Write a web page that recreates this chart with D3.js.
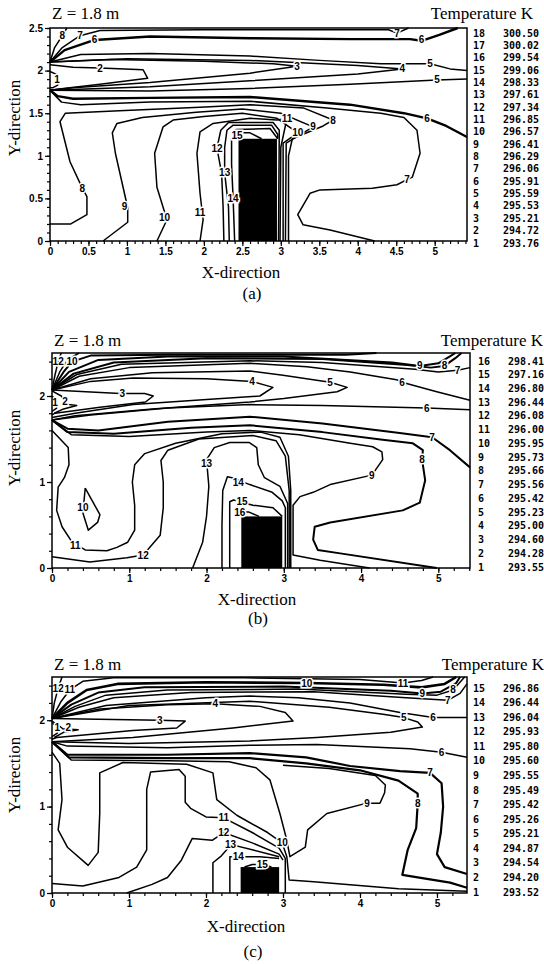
<!DOCTYPE html>
<html>
<head>
<meta charset="utf-8">
<script src="https://cdn.jsdelivr.net/npm/d3@7"></script>
<style>
body { margin: 0; background: #fff; }
svg { display: block; }
</style>
</head>
<body>
<svg width="544" height="964"></svg>
<script>
// ---- legend values (temperature K, level 1 first) ----
const tempsA = [293.76, 294.72, 295.21, 295.53, 295.59, 295.91, 296.06, 296.29, 296.41,
  296.57, 296.85, 297.34, 297.61, 298.33, 299.06, 299.54, 300.02, 300.50];
const tempsB = [293.55, 294.28, 294.60, 295.00, 295.23, 295.42, 295.56, 295.66,
  295.73, 295.95, 296.00, 296.08, 296.44, 296.80, 297.16, 298.41];
const tempsC = [293.52, 294.20, 294.54, 294.87, 295.21, 295.26, 295.42, 295.49,
  295.55, 295.60, 295.80, 295.93, 296.04, 296.44, 296.86];

// heat source block [x0, x1, height] in metres
const blockA = [2.45, 2.95, 1.2];
const blockB = [2.45, 2.98, 0.6];
const blockC = [2.45, 2.95, 0.3];

// ---- contour lines (x, y in metres) ----
// lv = level number, lab = where the level number is printed, w = heavier stroke
const linesA = [
  {lv: 8, pts: [[0,2.1],[0.06,2.27],[0.16,2.41],[0.22,2.5]], lab: [[0.16,2.41]]},
  {lv: 7, pts: [[0,2.1],[0.16,2.27],[0.39,2.41],[0.65,2.47],[1.95,2.48],[4.4,2.48],[4.51,2.44],[4.66,2.5]], lab: [[0.39,2.41],[4.51,2.44]]},
  {lv: 6, w: 2.4, pts: [[0,2.1],[0.19,2.24],[0.58,2.36],[1.3,2.4],[2.6,2.38],[3.9,2.37],[4.68,2.37],[4.83,2.35],[5.06,2.42],[5.3,2.5]], lab: [[0.58,2.37],[4.83,2.36]]},
  {lv: 5, pts: [[0,2.1],[0.4,2.19],[1.3,2.2],[2.6,2.17],[3.5,2.12],[4.3,2.08],[4.94,2.08],[5.2,2.02],[5.42,2.0]], lab: [[4.94,2.08]]},
  {lv: 4, pts: [[0,2.1],[1.0,2.14],[2.6,2.12],[4.0,2.06],[4.58,2.02],[4.0,1.96],[2.6,1.88],[1.3,1.81],[0,1.77]], lab: [[4.58,2.02]]},
  {lv: 3, pts: [[0,2.1],[0.8,2.13],[2.0,2.11],[2.9,2.08],[3.21,2.05],[2.6,1.97],[1.3,1.86],[0.3,1.8],[0,1.77]], lab: [[3.21,2.05]]},
  {lv: 2, pts: [[0,2.07],[0.3,2.04],[0.65,2.03],[1.21,2.01],[1.27,1.91],[0.65,1.84],[0.09,1.78],[0,1.77]], lab: [[0.65,2.03]]},
  {lv: 1, pts: [[0,1.99],[0.1,1.95],[0.1,1.83],[0.04,1.8],[0,1.8]], lab: [[0.09,1.89]]},
  {lv: 5, pts: [[0,1.77],[1.3,1.76],[2.6,1.79],[3.9,1.84],[5.03,1.89],[5.42,1.9]], lab: [[5.03,1.89]]},
  {lv: 6, w: 2.4, pts: [[0,1.77],[0.1,1.7],[0.3,1.67],[1.3,1.68],[2.6,1.69],[3.9,1.6],[4.6,1.5],[4.9,1.44],[5.15,1.35],[5.42,1.22]], lab: [[4.9,1.44]]},
  {lv: 7, pts: [[0,1.77],[0.15,1.63],[0.4,1.6],[1.3,1.63],[2.6,1.64],[3.6,1.56],[4.3,1.5],[4.6,1.45],[4.77,1.3],[4.81,1.03],[4.71,0.75],[4.64,0.72],[4.51,0.66],[4.19,0.62],[3.51,0.6],[3.38,0.56],[3.22,0.31],[3.29,0.19],[3.64,0.13],[4.22,0]], lab: [[4.64,0.72]]},
  {lv: 8, pts: [[0,0.2],[0.27,0.2],[0.48,0.31],[0.48,0.52],[0.42,0.62],[0.26,0.93],[0.13,1.4],[0.2,1.5],[0.9,1.53],[1.95,1.57],[2.6,1.6],[3.3,1.56],[3.68,1.42],[3.55,1.35],[3.15,1.2],[3.1,1.0],[3.1,0]], lab: [[0.42,0.62],[3.68,1.42]]},
  {lv: 9, pts: [[0.69,0],[1.01,0.22],[1.01,0.39],[0.85,1.03],[0.81,1.27],[0.87,1.38],[1.2,1.45],[1.9,1.51],[2.5,1.55],[3.0,1.5],[3.42,1.34],[3.07,1.15],[3.06,0]], lab: [[0.97,0.4],[3.42,1.34]]},
  {lv: 10, pts: [[1.39,0],[1.52,0.25],[1.39,0.63],[1.36,1.03],[1.47,1.34],[1.6,1.42],[2.0,1.46],[2.5,1.5],[2.95,1.44],[3.22,1.27],[3.03,1.15],[3.03,0]], lab: [[1.49,0.28],[3.22,1.27]]},
  {lv: 11, pts: [[1.95,0],[1.99,0.25],[1.95,0.56],[1.91,1.03],[1.95,1.28],[2.12,1.38],[2.6,1.44],[2.95,1.42],[3.08,1.44],[3.0,1.1],[2.99,0]], lab: [[1.95,0.33],[3.08,1.44]]},
  {lv: 12, pts: [[2.26,0],[2.25,0.4],[2.23,0.8],[2.17,1.09],[2.22,1.3],[2.32,1.39],[2.9,1.39],[2.98,1.3],[2.97,0]], lab: [[2.17,1.09]]},
  {lv: 13, pts: [[2.33,0],[2.32,0.4],[2.27,0.8],[2.27,1.1],[2.3,1.3],[2.38,1.36],[2.88,1.36],[2.96,1.25],[2.96,1.2]], lab: [[2.27,0.8]]},
  {lv: 14, pts: [[2.4,0],[2.38,0.5],[2.36,0.9],[2.36,1.2],[2.42,1.31],[2.86,1.32],[2.96,1.2]], lab: [[2.38,0.5]]},
  {lv: 15, pts: [[2.45,1.2],[2.43,1.27],[2.6,1.27],[2.75,1.2]], lab: [[2.43,1.24]]}
];

const linesB = [
  {lv: 12, pts: [[0,2.07],[0.04,2.25],[0.08,2.4],[0.12,2.5]], lab: [[0.08,2.4]]},
  {lv: 11, pts: [[0,2.07],[0.1,2.28],[0.2,2.42],[0.35,2.5]]},
  {lv: 10, w: 2, pts: [[0,2.07],[0.15,2.28],[0.26,2.4],[0.5,2.47],[1.5,2.48],[3.0,2.48],[3.8,2.48],[4.2,2.5]], lab: [[0.26,2.4]]},
  {lv: 9, w: 2, pts: [[0,2.07],[0.22,2.28],[0.6,2.42],[1.5,2.46],[3,2.46],[4.4,2.39],[4.76,2.35],[5.0,2.38],[5.15,2.46],[5.22,2.5]], lab: [[4.76,2.35]]},
  {lv: 8, w: 2, pts: [[0,2.07],[0.28,2.26],[0.8,2.39],[2,2.44],[3.5,2.43],[4.6,2.36],[4.9,2.33],[5.08,2.35],[5.22,2.44],[5.3,2.5]], lab: [[5.08,2.35]]},
  {lv: 7, pts: [[0,2.07],[0.32,2.25],[0.9,2.37],[2.56,2.41],[3.5,2.39],[4.7,2.31],[5.0,2.28],[5.25,2.3],[5.41,2.33]], lab: [[5.25,2.3]]},
  {lv: 6, pts: [[0,2.07],[0.35,2.23],[1.0,2.33],[2.56,2.38],[3.3,2.34],[3.86,2.28],[4.46,2.19],[4.53,2.16],[4.98,2.05],[5.41,1.95]], lab: [[4.53,2.16]]},
  {lv: 5, pts: [[0,2.07],[0.5,2.2],[1.3,2.27],[2.56,2.29],[2.99,2.24],[3.6,2.16],[3.82,2.1],[3.69,2.05],[3.0,1.97],[2.56,1.93],[1.3,1.85],[0.3,1.77],[0,1.72]], lab: [[3.6,2.16]]},
  {lv: 4, pts: [[0,2.07],[0.5,2.17],[1.05,2.21],[2.0,2.2],[2.59,2.17],[2.86,2.1],[2.69,2.0],[2.0,1.96],[1.05,1.9],[0.3,1.8],[0,1.75]], lab: [[2.59,2.17]]},
  {lv: 3, pts: [[0,2.07],[0.88,2.03],[1.2,2.03],[1.31,2.0],[1.21,1.93],[0.62,1.87],[0.04,1.8],[0,1.78]], lab: [[0.91,2.03]]},
  {lv: 2, pts: [[0,2.06],[0.12,2.0],[0.17,1.94],[0.22,1.9],[0.32,1.89],[0.15,1.85],[0.03,1.8]], lab: [[0.17,1.94]]},
  {lv: 1, pts: [[0,2.0],[0.05,1.96],[0.06,1.86],[0,1.82]], lab: [[0.04,1.93]]},
  {lv: 6, pts: [[0,1.72],[0.5,1.78],[1.5,1.86],[2.56,1.9],[3.5,1.89],[4.85,1.86],[5.41,1.84]], lab: [[4.85,1.86]]},
  {lv: 7, w: 2, pts: [[0,1.72],[0.2,1.62],[0.6,1.6],[1.5,1.7],[2.56,1.76],[3.5,1.68],[4.5,1.57],[4.92,1.52],[5.15,1.37],[5.41,1.17]], lab: [[4.92,1.52]]},
  {lv: 8, w: 2, pts: [[0,1.72],[0.2,1.58],[0.8,1.56],[1.8,1.63],[2.56,1.66],[3.5,1.58],[4.28,1.49],[4.67,1.45],[4.8,1.37],[4.79,1.26],[4.83,1.02],[4.76,0.76],[4.54,0.67],[3.6,0.53],[3.4,0.48],[3.38,0.33],[3.44,0.21],[3.73,0.17],[4.98,0]], lab: [[4.79,1.26]]},
  {lv: 9, pts: [[0,1.72],[0.25,1.55],[1.0,1.53],[2.0,1.58],[2.56,1.6],[3.2,1.55],[3.86,1.45],[4.15,1.41],[4.27,1.35],[4.28,1.26],[4.14,1.08],[3.6,0.97],[3.38,0.88],[3.21,0.83],[3.12,0.73],[3.12,0.15],[3.47,0.09],[4.11,0]], lab: [[4.14,1.08]]},
  {lv: 10, pts: [[0.43,0.93],[0.62,0.62],[0.59,0.53],[0.47,0.44],[0.4,0.64],[0.43,0.93]], lab: [[0.4,0.7]]},
  {lv: 11, pts: [[0,1.6],[0.21,1.4],[0.22,1.2],[0.16,1.05],[0.08,0.94],[0.06,0.67],[0.13,0.48],[0.26,0.3],[0.43,0.21],[0.71,0.2],[0.84,0.24],[0.98,0.3],[1.07,0.44],[1.07,0.73],[1.04,1.0],[1.07,1.2],[1.2,1.33],[1.6,1.45],[2.2,1.56],[2.7,1.58],[2.95,1.52],[3.06,1.3],[3.09,0.9],[3.09,0]], lab: [[0.3,0.26]]},
  {lv: 12, pts: [[0,0.13],[0.49,0.07],[0.97,0.12],[1.18,0.15],[1.4,0.38],[1.44,0.7],[1.44,1.0],[1.41,1.25],[1.5,1.37],[1.9,1.5],[2.6,1.54],[2.9,1.48],[3.02,1.3],[3.07,0.9],[3.07,0]], lab: [[1.18,0.15]]},
  {lv: 13, pts: [[1.82,0],[1.95,0.3],[2.0,0.6],[2.03,0.95],[2.0,1.26],[2.1,1.4],[2.3,1.46],[2.55,1.46],[2.65,1.4],[2.67,1.2],[2.75,1.05],[2.95,0.95],[3.05,0.75],[3.05,0]], lab: [[2.0,1.22]]},
  {lv: 14, pts: [[2.2,0],[2.2,0.5],[2.21,0.9],[2.27,1.06],[2.33,1.05],[2.56,0.97],[2.85,0.88],[2.98,0.78],[3.02,0.7],[3.02,0]], lab: [[2.41,0.99]]},
  {lv: 15, pts: [[2.3,0],[2.3,0.77],[2.35,0.79],[2.6,0.73],[2.86,0.7],[2.98,0.6]], lab: [[2.46,0.77]]},
  {lv: 16, pts: [[2.38,0.6],[2.4,0.65],[2.55,0.65],[2.68,0.6]], lab: [[2.43,0.65]]}
];

const linesC = [
  {lv: 12, pts: [[0,2.02],[0.03,2.2],[0.08,2.37],[0.13,2.5]], lab: [[0.08,2.37]]},
  {lv: 11, pts: [[0,2.02],[0.12,2.22],[0.23,2.35],[0.4,2.45],[0.8,2.49],[2.5,2.49],[4.0,2.47],[4.56,2.43],[4.8,2.46],[4.95,2.5]], lab: [[0.23,2.35],[4.56,2.43]]},
  {lv: 10, w: 2.6, pts: [[0,2.02],[0.2,2.2],[0.45,2.35],[0.85,2.42],[2,2.44],[3.31,2.43],[4.3,2.41],[4.8,2.38],[5.1,2.42],[5.25,2.5]], lab: [[3.31,2.43]]},
  {lv: 9, w: 2, pts: [[0,2.02],[0.25,2.18],[0.6,2.32],[1.2,2.38],[3,2.39],[4.4,2.34],[4.81,2.31],[5.05,2.33],[5.25,2.43],[5.3,2.5]], lab: [[4.81,2.31]]},
  {lv: 8, pts: [[0,2.02],[0.3,2.16],[0.7,2.29],[1.5,2.35],[3.2,2.36],[4.6,2.3],[5.0,2.29],[5.21,2.35],[5.33,2.47],[5.36,2.5]], lab: [[5.21,2.35]]},
  {lv: 7, pts: [[0,2.02],[0.35,2.15],[0.8,2.26],[1.8,2.32],[3.4,2.33],[4.6,2.26],[5.14,2.23],[5.3,2.31],[5.39,2.42]], lab: [[5.14,2.23]]},
  {lv: 6, pts: [[0,2.02],[0.7,2.17],[2.0,2.26],[2.57,2.28],[3.2,2.26],[3.87,2.2],[4.52,2.09],[4.95,2.03],[5.39,2.03]], lab: [[4.95,2.03]]},
  {lv: 5, pts: [[0,2.02],[1.0,2.17],[2.57,2.22],[3.6,2.15],[4.3,2.07],[4.57,2.03],[4.75,1.98],[4.81,1.92],[4.4,1.86],[3.44,1.8],[2.57,1.76],[1.0,1.73],[0,1.75]], lab: [[4.57,2.03]]},
  {lv: 4, pts: [[0,2.02],[0.62,2.13],[1.5,2.18],[2.12,2.19],[2.7,2.16],[3.03,2.09],[3.13,1.99],[2.35,1.91],[1.05,1.8],[0,1.75]], lab: [[2.12,2.19]]},
  {lv: 3, pts: [[0,2.02],[1.4,2.0],[1.73,1.99],[1.62,1.91],[1.05,1.88],[0.06,1.8],[0,1.78]], lab: [[1.4,2.0]]},
  {lv: 2, pts: [[0,1.99],[0.1,1.93],[0.14,1.9],[0.34,1.89],[0.15,1.86],[0.03,1.8]], lab: [[0.21,1.92]]},
  {lv: 1, pts: [[0,1.97],[0.06,1.93],[0.07,1.85],[0,1.81]], lab: [[0.07,1.92]]},
  {lv: 6, pts: [[0,1.75],[0.2,1.7],[1.5,1.68],[2.57,1.71],[3.44,1.72],[4.65,1.67],[5.06,1.63],[5.39,1.57]], lab: [[5.06,1.63]]},
  {lv: 7, w: 2.2, pts: [[0,1.75],[0.2,1.6],[1.5,1.6],[2.57,1.62],[3.3,1.57],[3.87,1.47],[4.52,1.41],[4.91,1.39],[5.06,1.27],[5.08,1.0],[5.05,0.7],[5.0,0.45],[5.1,0.3],[5.39,0.22]], lab: [[4.91,1.39]]},
  {lv: 8, w: 2.2, pts: [[0,1.75],[0.22,1.57],[1.5,1.56],[2.57,1.56],[3.3,1.5],[4.0,1.42],[4.5,1.3],[4.75,1.15],[4.75,1.04],[4.73,0.75],[4.62,0.5],[4.55,0.21],[5.17,0.12],[5.39,0.06]], lab: [[4.75,1.04]]},
  {lv: 9, pts: [[0,1.75],[0.25,1.54],[1.5,1.53],[2.3,1.52],[2.65,1.45],[2.83,1.31],[2.96,0.92],[3.05,0.61],[3.09,0.42],[3.29,0.53],[3.32,0.73],[3.57,0.92],[4.09,1.04],[4.26,1.04],[4.32,1.16],[4.33,1.25],[4.2,1.36],[3.6,1.44],[3.0,1.48]], lab: [[4.09,1.04]]},
  {lv: 10, pts: [[0,1.63],[0.1,1.5],[0.13,1.08],[0.08,0.73],[0.2,0.53],[0.47,0.32],[0.6,0.47],[0.62,0.92],[0.62,1.39],[0.92,1.51],[1.75,1.49],[2.09,1.39],[2.14,1.08],[2.4,0.9],[2.8,0.7],[2.99,0.58],[3.05,0.42],[3.08,0.15],[3.4,0.13],[4.5,0.05],[5.39,0.02]], lab: [[2.99,0.58]]},
  {lv: 11, pts: [[0,0.11],[0.4,0.08],[0.87,0.18],[1.1,0.3],[1.23,0.5],[1.23,1.2],[1.28,1.4],[1.65,1.43],[1.73,1.35],[1.73,1.05],[1.8,0.98],[2.0,0.88],[2.23,0.87],[2.6,0.7],[2.95,0.52],[3.03,0.4],[3.03,0]], lab: [[2.23,0.87]]},
  {lv: 12, pts: [[0.97,0],[1.3,0.1],[1.5,0.18],[1.68,0.38],[1.82,0.63],[2.08,0.61],[2.23,0.7],[2.6,0.58],[2.95,0.45],[3.0,0.38]], lab: [[2.23,0.7]]},
  {lv: 13, pts: [[2.09,0],[2.09,0.35],[2.2,0.43],[2.33,0.56],[2.6,0.5],[2.95,0.42]], lab: [[2.32,0.56]]},
  {lv: 14, pts: [[2.31,0],[2.31,0.42],[2.42,0.42],[2.7,0.42],[2.95,0.4]], lab: [[2.42,0.42]]},
  {lv: 15, pts: [[2.5,0.3],[2.6,0.33],[2.75,0.33],[2.85,0.3]], lab: [[2.73,0.33]]}
];

// ---- layout of the three panels (pixels) ----
const panels = [
  {lines: linesA, temps: tempsA, block: blockA, tag: '(a)',
    left: 50, right: 467, top: 28, bottom: 241, xMax: 5.42,
    xMajor: d3.range(0, 5.01, 0.5), xMinor: d3.range(0, 5.42, 0.1),
    yMajor: d3.range(0, 2.51, 0.5), yMinor: d3.range(0, 2.51, 0.1),
    titleY: 19, tempEnd: 533, legTop: 33, legBottom: 243, legX: 473,
    xTitleX: 241, xTitleY: 278, tagX: 252, tagY: 299, yTitleMid: 118},
  {lines: linesB, temps: tempsB, block: blockB, tag: '(b)',
    left: 52, right: 470, top: 353, bottom: 568, xMax: 5.41,
    xMajor: d3.range(0, 5.01, 1), xMinor: d3.range(0, 5.41, 0.2),
    yMajor: [0, 1, 2], yMinor: d3.range(0, 2.51, 0.2),
    titleY: 346, tempEnd: 543, legTop: 361, legBottom: 567, legX: 478,
    xTitleX: 257, xTitleY: 605, tagX: 258, tagY: 624, yTitleMid: 448},
  {lines: linesC, temps: tempsC, block: blockC, tag: '(c)',
    left: 52, right: 467, top: 677, bottom: 893, xMax: 5.39,
    xMajor: d3.range(0, 5.01, 1), xMinor: d3.range(0, 5.39, 0.2),
    yMajor: [0, 1, 2], yMinor: d3.range(0, 2.51, 0.2),
    titleY: 670, tempEnd: 544, legTop: 688, legBottom: 892, legX: 473,
    xTitleX: 246, xTitleY: 932, tagX: 253, tagY: 957, yTitleMid: 775}
];

const svg = d3.select('svg');
const serif = '"Liberation Serif", "Times New Roman", serif';

panels.forEach(p => {
  const x = d3.scaleLinear().domain([0, p.xMax]).range([p.left, p.right]);
  const y = d3.scaleLinear().domain([0, 2.5]).range([p.bottom, p.top]);
  const g = svg.append('g');

  // block (heat source)
  g.append('rect')
    .attr('x', x(p.block[0])).attr('y', y(p.block[2]))
    .attr('width', x(p.block[1]) - x(p.block[0]))
    .attr('height', y(0) - y(p.block[2]))
    .attr('fill', '#000');

  // contour lines
  const line = d3.line().x(d => x(d[0])).y(d => y(d[1]));
  g.selectAll('path.c')
    .data(p.lines)
    .join('path')
    .attr('class', 'c')
    .attr('d', d => line(d.pts))
    .attr('fill', 'none')
    .attr('stroke', '#000')
    .attr('stroke-width', d => d.w || 1.5)
    .attr('stroke-linejoin', 'round');

  // level numbers on the lines
  const labs = p.lines.flatMap(d => (d.lab || []).map(q => ({lv: d.lv, x: q[0], y: q[1]})));
  g.selectAll('text.lab')
    .data(labs)
    .join('text')
    .attr('class', 'lab')
    .attr('x', d => x(d.x)).attr('y', d => y(d.y))
    .attr('dy', '0.35em')
    .attr('text-anchor', 'middle')
    .attr('font-family', '"Liberation Sans", Arial, sans-serif')
    .attr('font-weight', 'bold')
    .attr('font-size', 10)
    .attr('stroke', '#fff').attr('stroke-width', 3)
    .attr('paint-order', 'stroke')
    .text(d => d.lv);

  // frame
  g.append('rect')
    .attr('x', p.left).attr('y', p.top)
    .attr('width', p.right - p.left).attr('height', p.bottom - p.top)
    .attr('fill', 'none').attr('stroke', '#000').attr('stroke-width', 1.5);

  // axes
  const tickFont = sel => sel.selectAll('text')
    .attr('font-family', '"Liberation Sans", Arial, sans-serif')
    .attr('font-weight', 'bold').attr('font-size', 10).attr('fill', '#000');
  const fmt = d => d3.format('~g')(+d.toFixed(1));

  g.append('g').attr('transform', `translate(0,${p.bottom})`)
    .call(d3.axisBottom(x).tickValues(p.xMinor).tickSize(3).tickFormat(''))
    .call(a => a.select('.domain').remove());
  g.append('g').attr('transform', `translate(0,${p.bottom})`)
    .call(d3.axisBottom(x).tickValues(p.xMajor).tickSize(5).tickPadding(2).tickFormat(fmt))
    .call(a => a.select('.domain').remove())
    .call(tickFont);
  g.append('g').attr('transform', `translate(${p.left},0)`)
    .call(d3.axisLeft(y).tickValues(p.yMinor).tickSize(3).tickFormat(''))
    .call(a => a.select('.domain').remove());
  g.append('g').attr('transform', `translate(${p.left},0)`)
    .call(d3.axisLeft(y).tickValues(p.yMajor).tickSize(5).tickPadding(2).tickFormat(fmt))
    .call(a => a.select('.domain').remove())
    .call(tickFont);
  g.selectAll('.tick line').attr('stroke', '#000').attr('stroke-width', 1.2);

  // titles
  g.append('text').attr('x', p.left + 2).attr('y', p.titleY)
    .attr('font-family', serif).attr('font-size', 17).text('Z = 1.8 m');
  g.append('text').attr('x', p.tempEnd).attr('y', p.titleY)
    .attr('text-anchor', 'end')
    .attr('font-family', serif).attr('font-size', 17).text('Temperature K');
  g.append('text').attr('x', p.xTitleX).attr('y', p.xTitleY)
    .attr('text-anchor', 'middle')
    .attr('font-family', serif).attr('font-size', 17).text('X-direction');
  g.append('text').attr('x', p.tagX).attr('y', p.tagY)
    .attr('text-anchor', 'middle')
    .attr('font-family', serif).attr('font-size', 17).text(p.tag);
  g.append('text')
    .attr('transform', `translate(20,${p.yTitleMid}) rotate(-90)`)
    .attr('text-anchor', 'middle')
    .attr('font-family', serif).attr('font-size', 17).text('Y-direction');

  // legend table
  const n = p.temps.length;
  const ly = d3.scaleLinear().domain([1, n]).range([p.legBottom, p.legTop]);
  const rows = g.selectAll('g.row')
    .data(p.temps.map((t, i) => ({lv: i + 1, t})))
    .join('g').attr('class', 'row')
    .attr('transform', d => `translate(${p.legX},${ly(d.lv)})`)
    .attr('font-family', '"DejaVu Sans Mono", monospace')
    .attr('font-weight', 'bold').attr('font-size', 10);
  rows.append('text').attr('dy', '0.35em').text(d => d.lv);
  rows.append('text').attr('x', 30).attr('dy', '0.35em').text(d => d.t.toFixed(2));
});
</script>
</body>
</html>
